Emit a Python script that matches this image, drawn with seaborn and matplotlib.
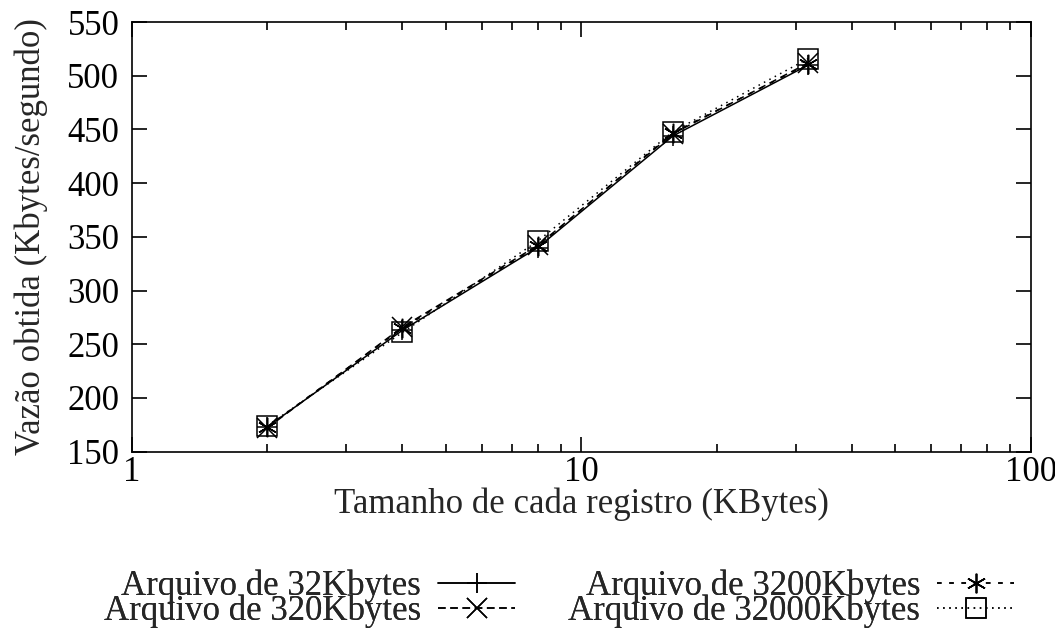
import pandas as pd
import matplotlib
matplotlib.use('Agg')
import matplotlib.pyplot as plt
import seaborn as sns
from matplotlib.ticker import LogLocator, FixedLocator, NullFormatter

# dados
tamanhos = [2, 4, 8, 16, 32]
arq_32k = [173, 263, 340, 444, 510]
arq_320k = [172, 266, 342, 446, 512]
arq_3200k = [173, 265, 341, 447, 511]
arq_32000k = [174, 261, 346, 448, 516]

rotulos = ['Arquivo de 32Kbytes', 'Arquivo de 320Kbytes',
           'Arquivo de 3200Kbytes', 'Arquivo de 32000Kbytes']
yticks = [150, 200, 250, 300, 350, 400, 450, 500, 550]

df = pd.DataFrame({
    'tamanho': tamanhos * 4,
    'vazao': arq_32k + arq_320k + arq_3200k + arq_32000k,
    'arquivo': sum([[r] * len(tamanhos) for r in rotulos], []),
})

sns.set_style('ticks')
plt.rcParams['font.family'] = ['Liberation Serif', 'DejaVu Serif']
plt.rcParams['xtick.direction'] = 'in'
plt.rcParams['ytick.direction'] = 'in'

FS = 25

fig, ax = plt.subplots(figsize=(10.55, 6.29), dpi=100)
fig.subplots_adjust(left=0.125, right=0.977, top=0.965, bottom=0.282)

estilos = [
    dict(linestyle='-', marker='+'),
    dict(linestyle=(0, (5, 3)), marker='x'),
    dict(linestyle=(0, (3, 5)), marker=(6, 2, 0)),
    dict(linestyle=(0, (1, 3)), marker='s', markerfacecolor='none'),
]

handles = []
for rot, est in zip(rotulos, estilos):
    sub = df[df['arquivo'] == rot]
    sns.lineplot(data=sub, x='tamanho', y='vazao', ax=ax, color='black',
                 linewidth=1.1, markersize=14, markeredgecolor='black',
                 markeredgewidth=1.1, label=rot, legend=False, **est)
    handles.append(ax.lines[-1])

ax.set_xscale('log')
ax.set_xlim(1, 100)
ax.set_ylim(150, 550)
ax.set_yticks(yticks)
ax.xaxis.set_major_locator(FixedLocator([1, 10, 100]))
ax.set_xticklabels(['1', '10', '100'])
ax.xaxis.set_minor_locator(LogLocator(base=10, subs=range(2, 10)))
ax.xaxis.set_minor_formatter(NullFormatter())
ax.tick_params(which='both', top=True, right=True, labelsize=FS,
               width=1.2, colors='black')
ax.tick_params(which='major', length=11)
ax.tick_params(axis='y', which='major', pad=9)
ax.tick_params(axis='x', which='major', pad=3)
ax.tick_params(which='minor', length=6)
for s in ax.spines.values():
    s.set_linewidth(1.2)
    s.set_color('black')

ax.set_xlabel('Tamanho de cada registro (KBytes)', fontsize=FS, labelpad=-1)
ax.set_ylabel('Vazão obtida (Kbytes/segundo)', fontsize=FS, labelpad=14)

# legenda no estilo do gnuplot: texto alinhado à direita, amostra depois
pos = [(0.488, 0.068), (0.488, 0.028), (0.961, 0.068), (0.961, 0.028)]
for h, rot, (px, py) in zip(handles, rotulos, pos):
    leg = fig.legend([h], [rot], loc='center right', bbox_to_anchor=(px, py),
                     frameon=False, markerfirst=False, fontsize=FS,
                     handlelength=2.2, handletextpad=0.5, borderpad=0,
                     borderaxespad=0)
    fig.add_artist(leg)

fig.savefig('out.png', dpi=100, facecolor='white')
